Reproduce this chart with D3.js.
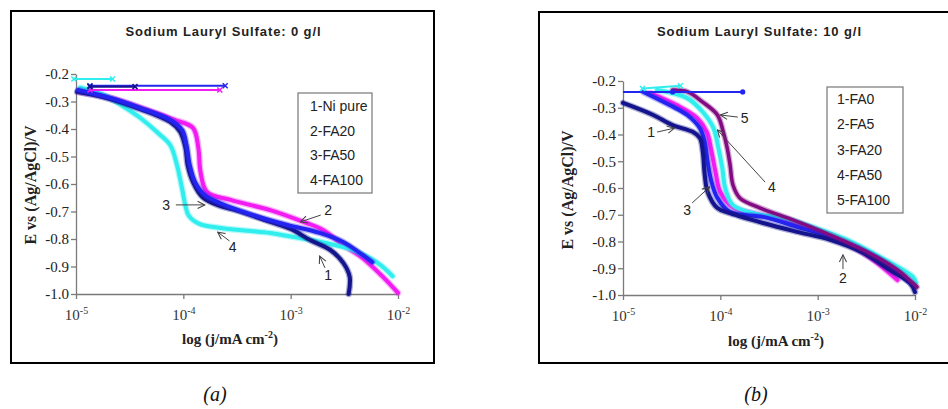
<!DOCTYPE html>
<html>
<head>
<meta charset="utf-8">
<script src="https://cdn.jsdelivr.net/npm/d3@7"></script>
<style>
body { margin: 0; background: #fff; }
svg { display: block; }
</style>
</head>
<body>
<script>
// ---- data (log10 of current density, potential in V) ----
var eTicks = [-0.2, -0.3, -0.4, -0.5, -0.6, -0.7, -0.8, -0.9, -1.0];
var eTickLabels = ["-0.2", "-0.3", "-0.4", "-0.5", "-0.6", "-0.7", "-0.8", "-0.9", "-1.0"];
var jTicks = [1e-5, 1e-4, 1e-3, 1e-2];
var jTickExp = ["-5", "-4", "-3", "-2"];

var legendA = ["1-Ni pure", "2-FA20", "3-FA50", "4-FA100"];
var legendB = ["1-FA0", "2-FA5", "3-FA20", "4-FA50", "5-FA100"];

// panel (a): SLS 0 g/l
var a1 = [[-4.99,-0.265],[-4.75,-0.284],[-4.43,-0.324],[-4.12,-0.375],[-4.03,-0.41],[-3.98,-0.469],[-3.96,-0.531],
          [-3.91,-0.593],[-3.82,-0.648],[-3.66,-0.68],[-3.5,-0.697],[-3.19,-0.738],[-2.98,-0.767],[-2.82,-0.804],
          [-2.63,-0.84],[-2.51,-0.887],[-2.45,-0.938],[-2.46,-1.0]];
var a2 = [[-4.98,-0.265],[-4.68,-0.287],[-4.28,-0.338],[-4.08,-0.367],[-3.91,-0.396],[-3.86,-0.469],[-3.84,-0.556],
          [-3.78,-0.629],[-3.56,-0.658],[-3.19,-0.695],[-2.88,-0.738],[-2.70,-0.767],[-2.51,-0.822],[-2.33,-0.869],
          [-2.14,-0.938],[-2.0,-0.996]];
var a3 = [[-4.98,-0.258],[-4.68,-0.287],[-4.40,-0.324],[-4.12,-0.367],[-4.01,-0.404],[-3.97,-0.458],[-3.94,-0.531],
          [-3.89,-0.593],[-3.80,-0.64],[-3.66,-0.669],[-3.35,-0.713],[-3.03,-0.749],[-2.73,-0.778],[-2.51,-0.811],
          [-2.33,-0.858],[-2.24,-0.884]];
var a4 = [[-4.96,-0.25],[-4.75,-0.275],[-4.55,-0.32],[-4.40,-0.36],[-4.22,-0.42],[-4.12,-0.46],[-4.06,-0.53],
          [-4.01,-0.62],[-3.98,-0.68],[-3.95,-0.715],[-3.85,-0.745],[-3.65,-0.76],[-3.4,-0.77],[-3.19,-0.778],
          [-2.94,-0.795],[-2.73,-0.81],[-2.42,-0.84],[-2.19,-0.887],[-2.05,-0.935]];
// open-circuit tails at the start of each scan
var a1Tail = [[-4.87,-0.246],[-4.45,-0.246]];
var a2Tail = [[-4.87,-0.258],[-3.66,-0.258]];
var a3Tail = [[-4.87,-0.243],[-3.61,-0.243]];
var a4Tail = [[-5.02,-0.218],[-4.66,-0.218]];

// panel (b): SLS 10 g/l
var b1 = [[-5.0,-0.282],[-4.69,-0.327],[-4.49,-0.365],[-4.28,-0.391],[-4.21,-0.413],[-4.18,-0.465],[-4.16,-0.551],
          [-4.13,-0.615],[-4.03,-0.675],[-3.90,-0.694],[-3.56,-0.731],[-3.21,-0.764],[-2.87,-0.794],[-2.53,-0.843],
          [-2.26,-0.906],[-2.05,-0.955],[-2.0,-0.989]];
var b2 = [[-4.72,-0.245],[-4.45,-0.29],[-4.24,-0.338],[-4.14,-0.39],[-4.09,-0.465],[-4.05,-0.54],[-4.0,-0.615],
          [-3.87,-0.672],[-3.6,-0.70],[-3.39,-0.718],[-3.05,-0.752],[-2.70,-0.806],[-2.43,-0.869],[-2.18,-0.944]];
var b3 = [[-4.79,-0.241],[-4.52,-0.29],[-4.34,-0.327],[-4.21,-0.376],[-4.16,-0.428],[-4.13,-0.503],[-4.09,-0.578],
          [-4.03,-0.637],[-3.90,-0.69],[-3.56,-0.708],[-3.21,-0.745],[-2.87,-0.783],[-2.36,-0.869],[-2.0,-0.97]];
var b4 = [[-4.65,-0.234],[-4.34,-0.264],[-4.18,-0.316],[-4.07,-0.376],[-4.02,-0.45],[-3.98,-0.525],[-3.95,-0.6],
          [-3.87,-0.664],[-3.6,-0.70],[-3.39,-0.708],[-3.05,-0.746],[-2.70,-0.794],[-2.36,-0.858],[-2.02,-0.933],
          [-1.99,-0.955]];
var b5 = [[-4.49,-0.234],[-4.34,-0.24],[-4.18,-0.279],[-4.03,-0.327],[-3.97,-0.39],[-3.93,-0.45],[-3.90,-0.514],
          [-3.87,-0.589],[-3.80,-0.637],[-3.59,-0.675],[-3.31,-0.712],[-2.87,-0.776],[-2.53,-0.832],[-2.18,-0.906],
          [-1.98,-0.97]];
var b3Tail = [[-5.0,-0.241],[-4.49,-0.241],[-3.77,-0.241]];
var b4Tail = [[-4.80,-0.228],[-4.41,-0.218]];

// curve labels: text, label point, arrow start, arrow end (data units)
var notesA = [
  ["3", [-4.16,-0.676], [-4.07,-0.676], [-3.80,-0.676]],
  ["2", [-2.65,-0.695], [-2.72,-0.713], [-2.91,-0.738]],
  ["4", [-3.54,-0.829], [-3.57,-0.807], [-3.68,-0.775]],
  ["1", [-2.65,-0.931], [-2.68,-0.905], [-2.73,-0.862]]
];
var notesB = [
  ["5", [-3.75,-0.338], [-3.82,-0.335], [-4.00,-0.327]],
  ["1", [-4.71,-0.391], [-4.65,-0.391], [-4.47,-0.376]],
  ["4", [-3.47,-0.596], [-3.54,-0.578], [-4.03,-0.383]],
  ["3", [-4.34,-0.682], [-4.29,-0.656], [-4.11,-0.596]],
  ["2", [-2.74,-0.936], [-2.74,-0.903], [-2.74,-0.85]]
];

var NAVY = "#14148c", MAG = "#f21cf2", BLUE = "#2424f0", CYAN = "#30eeee", PURP = "#820a82";

var sans = "'Liberation Sans', Arial, sans-serif";
var serif = "'Liberation Serif', 'Times New Roman', serif";

var svg = d3.select("body").append("svg").attr("width", 948).attr("height", 409);

var defs = svg.append("defs");
defs.append("marker").attr("id", "arr")
    .attr("viewBox", "0 0 10 10").attr("refX", 9).attr("refY", 5)
    .attr("markerWidth", 9).attr("markerHeight", 9).attr("markerUnits", "userSpaceOnUse")
    .attr("orient", "auto")
  .append("path").attr("d", "M1,1 L9,5 L1,9")
    .attr("fill", "none").attr("stroke", "#444").attr("stroke-width", 1.2);

function drawPanel(p) {
    var x = d3.scaleLog().domain([1e-5, 1e-2]).range(p.xr);
    var y = d3.scaleLinear().domain([-0.2, -1.0]).range(p.yr);
    var px = function(d) { return x(Math.pow(10, d[0])); };
    var py = function(d) { return y(d[1]); };
    var g = svg.append("g");

    g.append("rect").attr("x", p.frame[0]).attr("y", p.frame[1])
        .attr("width", p.frame[2]).attr("height", p.frame[3])
        .attr("fill", "none").attr("stroke", "#000").attr("stroke-width", 2);

    g.append("text").attr("x", p.titleX).attr("y", 36)
        .attr("text-anchor", "middle").attr("font-family", sans).attr("font-weight", "bold")
        .attr("font-size", 13).attr("textLength", p.titleW).attr("lengthAdjust", "spacing")
        .attr("fill", "#222").text(p.title);

    // axes
    var yAxis = g.append("g").attr("transform", "translate(" + p.xr[0] + ",0)")
        .call(d3.axisLeft(y).tickValues(eTicks).tickSize(5).tickSizeOuter(0).tickPadding(2)
            .tickFormat(function(d, i) { return eTickLabels[i]; }));
    var xAxis = g.append("g").attr("transform", "translate(0," + p.yr[1] + ")")
        .call(d3.axisBottom(x).tickValues(jTicks).tickSize(5).tickSizeOuter(0).tickFormat(""));
    [yAxis, xAxis].forEach(function(a) {
        a.select(".domain").attr("stroke", "#7a7a7a").attr("stroke-width", 1.3);
        a.selectAll(".tick line").attr("stroke", "#7a7a7a").attr("stroke-width", 1.3);
    });
    yAxis.selectAll("text").attr("font-family", serif).attr("font-size", 15).attr("fill", "#222");

    var xl = xAxis.selectAll(".tick").append("text")
        .attr("y", 26).attr("text-anchor", "middle")
        .attr("font-family", serif).attr("font-size", 15).attr("fill", "#333");
    xl.append("tspan").text("10");
    xl.append("tspan").attr("dy", -6).attr("font-size", 10)
        .text(function(d, i) { return jTickExp[i]; });

    // axis titles
    var xt = g.append("text").attr("x", p.xtX).attr("y", p.xtY).attr("text-anchor", "middle")
        .attr("font-family", serif).attr("font-weight", "bold").attr("font-size", 15).attr("fill", "#222");
    xt.append("tspan").text("log (j/mA cm");
    xt.append("tspan").attr("dy", -6).attr("font-size", 10).text("-2");
    xt.append("tspan").attr("dy", 6).text(")");

    g.append("text").attr("transform", "translate(" + p.ytX + "," + p.ytY + ") rotate(-90)")
        .attr("text-anchor", "middle").attr("font-family", serif).attr("font-weight", "bold")
        .attr("font-size", 16).attr("fill", "#222").text("E vs (Ag/AgCl)/V");

    // curves
    var line = d3.line().x(px).y(py).curve(d3.curveCatmullRom.alpha(0.5));
    p.series.forEach(function(s) {
        g.append("path").datum(s.data).attr("d", line).attr("fill", "none")
            .attr("stroke", s.color).attr("stroke-width", s.w + 2.5).attr("stroke-opacity", 0.35)
            .attr("stroke-linejoin", "round").attr("stroke-linecap", "round");
        g.append("path").datum(s.data).attr("d", line).attr("fill", "none")
            .attr("stroke", s.color).attr("stroke-width", s.w)
            .attr("stroke-linejoin", "round").attr("stroke-linecap", "round");
    });

    // open-circuit tails
    p.tails.forEach(function(t) {
        g.append("path").datum(t.data).attr("d", d3.line().x(px).y(py))
            .attr("fill", "none").attr("stroke", t.color).attr("stroke-width", 2);
        if (t.dot) {
            g.selectAll(null).data(t.data.slice(1)).enter().append("circle")
                .attr("cx", px).attr("cy", py).attr("r", 2.6).attr("fill", t.color);
        } else {
            g.selectAll(null).data(t.data).enter().append("path")
                .attr("transform", function(d) { return "translate(" + px(d) + "," + py(d) + ")"; })
                .attr("d", "M-2.5,-2.5L2.5,2.5M-2.5,2.5L2.5,-2.5")
                .attr("stroke", t.color).attr("stroke-width", 1.5);
        }
    });

    // curve labels and arrows
    p.notes.forEach(function(n) {
        g.append("line").attr("x1", px(n[2])).attr("y1", py(n[2]))
            .attr("x2", px(n[3])).attr("y2", py(n[3]))
            .attr("stroke", "#444").attr("stroke-width", 1).attr("marker-end", "url(#arr)");
        g.append("text").attr("x", px(n[1])).attr("y", py(n[1]))
            .attr("dy", "0.36em").attr("text-anchor", "middle")
            .attr("font-family", sans).attr("font-size", 14).attr("fill", "#222").text(n[0]);
    });

    // legend
    var lg = g.append("g");
    lg.append("rect").attr("x", p.leg[0]).attr("y", p.leg[1]).attr("width", p.leg[2]).attr("height", p.leg[3])
        .attr("fill", "#fff").attr("stroke", "#777").attr("stroke-width", 1.2);
    lg.selectAll("text").data(p.legend).enter().append("text")
        .attr("x", p.leg[0] + p.legPad)
        .attr("y", function(d, i) { return p.leg[1] + p.legFirst + i * p.legStep; })
        .attr("font-family", sans).attr("font-size", 14).attr("fill", "#222")
        .text(function(d) { return d; });

    // caption
    g.append("text").attr("x", p.capX).attr("y", 401).attr("text-anchor", "middle")
        .attr("font-family", serif).attr("font-style", "italic").attr("font-size", 20)
        .attr("fill", "#111").text(p.caption);
}

drawPanel({
    frame: [11, 11, 423, 352],
    xr: [76, 398], yr: [74, 294],
    title: "Sodium Lauryl Sulfate: 0 g/l", titleX: 223, titleW: 195,
    xtX: 230, xtY: 344, ytX: 36, ytY: 185,
    series: [
        {data: a2, color: MAG, w: 4},
        {data: a4, color: CYAN, w: 4},
        {data: a1, color: NAVY, w: 4},
        {data: a3, color: BLUE, w: 4}
    ],
    tails: [
        {data: a2Tail, color: MAG},
        {data: a3Tail, color: BLUE},
        {data: a1Tail, color: NAVY},
        {data: a4Tail, color: CYAN}
    ],
    notes: notesA,
    legend: legendA, leg: [298, 93, 74, 100], legPad: 12, legFirst: 18, legStep: 24.7,
    caption: "(a)", capX: 215
});

drawPanel({
    frame: [539, 12, 430, 351],
    xr: [623, 915], yr: [81, 295],
    title: "Sodium Lauryl Sulfate: 10 g/l", titleX: 759, titleW: 204,
    xtX: 776, xtY: 346, ytX: 573, ytY: 190,
    series: [
        {data: b2, color: MAG, w: 4},
        {data: b4, color: CYAN, w: 4},
        {data: b3, color: BLUE, w: 4},
        {data: b1, color: NAVY, w: 4},
        {data: b5, color: PURP, w: 3.5}
    ],
    tails: [
        {data: b3Tail, color: BLUE, dot: true},
        {data: b4Tail, color: CYAN}
    ],
    notes: notesB,
    legend: legendB, leg: [827, 87, 76, 126], legPad: 10, legFirst: 17, legStep: 25.3,
    caption: "(b)", capX: 756
});
</script>
</body>
</html>
